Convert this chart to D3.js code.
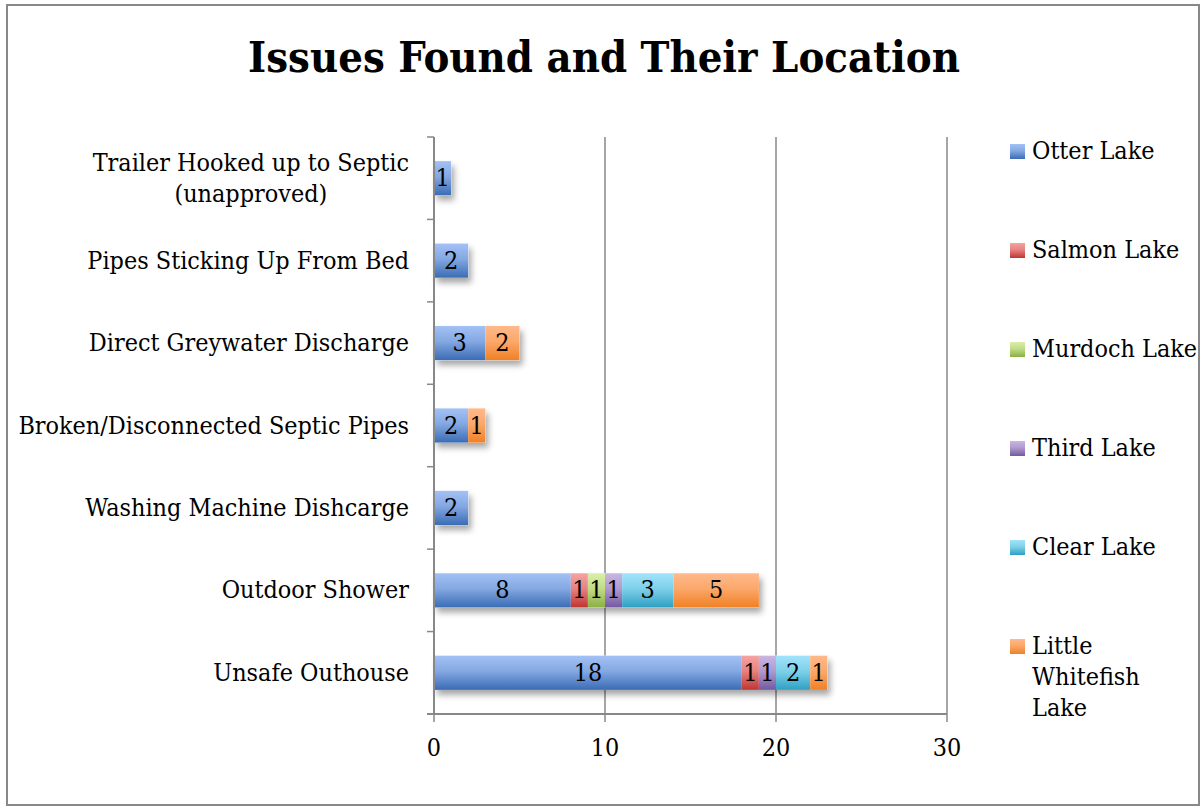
<!DOCTYPE html>
<html><head><meta charset="utf-8">
<script src="https://cdn.jsdelivr.net/npm/d3@7"></script>
<style>html,body{margin:0;padding:0;background:#fff;}svg{display:block;}</style>
</head><body>
<svg id="c" width="1202" height="808"></svg>
<script>
const categories = ["Trailer Hooked up to Septic (unapproved)","Pipes Sticking Up From Bed","Direct Greywater Discharge","Broken/Disconnected Septic Pipes","Washing Machine Dishcarge","Outdoor Shower","Unsafe Outhouse"];
const categoryLines = [["Trailer Hooked up to Septic","(unapproved)"],["Pipes Sticking Up From Bed"],["Direct Greywater Discharge"],["Broken/Disconnected Septic Pipes"],["Washing Machine Dishcarge"],["Outdoor Shower"],["Unsafe Outhouse"]];
const seriesNames = ["Otter Lake","Salmon Lake","Murdoch Lake","Third Lake","Clear Lake","Little Whitefish Lake"];
const legendLines = [["Otter Lake"],["Salmon Lake"],["Murdoch Lake"],["Third Lake"],["Clear Lake"],["Little","Whitefish","Lake"]];
const otterLake      = [1,2,3,2,2,8,18];
const salmonLake     = [0,0,0,0,0,1,1];
const murdochLake    = [0,0,0,0,0,1,0];
const thirdLake      = [0,0,0,0,0,1,1];
const clearLake      = [0,0,0,0,0,3,2];
const littleWhitefish= [0,0,2,1,0,5,1];
const xTicks = [0,10,20,30];
const seriesValues = [otterLake,salmonLake,murdochLake,thirdLake,clearLake,littleWhitefish];
const colorTop = ["#a3c1f6","#f6a3a2","#d9efa6","#c9b6e2","#a1e4fb","#ffb98a"];
const colorBot = ["#3a6cb4","#bf3533","#8ab043","#7359a0","#2ea0c2","#f08024"];

const svg = d3.select("#c");
const font = "'DejaVu Serif Condensed', 'DejaVu Serif', serif";
// fit body font size so the longest category label is ~391px wide
const probe = svg.append("text").attr("font-family",font).attr("font-stretch","condensed").attr("font-size",22).text("Broken/Disconnected Septic Pipes");
const fs = 22*391/probe.node().getComputedTextLength();
probe.remove();
const tprobe = svg.append("text").attr("font-family",font).attr("font-stretch","condensed").attr("font-weight","bold").attr("font-size",44).text("Issues Found and Their Location");
const tfs = 44*712/tprobe.node().getComputedTextLength();
tprobe.remove();

const defs = svg.append("defs");
seriesNames.forEach((s,i)=>{
  const g = defs.append("linearGradient").attr("id","g"+i).attr("x1",0).attr("y1",0).attr("x2",0).attr("y2",1);
  g.append("stop").attr("offset","0%").attr("stop-color",colorTop[i]);
  g.append("stop").attr("offset","45%").attr("stop-color",d3.interpolateRgb(colorTop[i],colorBot[i])(0.3));
  g.append("stop").attr("offset","100%").attr("stop-color",colorBot[i]);
});
const f = defs.append("filter").attr("id","sh").attr("x","-10%").attr("y","-30%").attr("width","130%").attr("height","180%");
f.append("feDropShadow").attr("dx",3).attr("dy",5).attr("stdDeviation",3).attr("flood-color","#000").attr("flood-opacity",0.35);

svg.append("rect").attr("x",7).attr("y",5).attr("width",1192).attr("height",800).attr("fill","#fff").attr("stroke","#888").attr("stroke-width",2);

svg.append("text").attr("x",604).attr("y",72).attr("text-anchor","middle").attr("font-family",font).attr("font-stretch","condensed").attr("font-weight","bold").attr("font-size",tfs).attr("fill","#000").text("Issues Found and Their Location");

const x = d3.scaleLinear().domain([0,30]).range([434,947]);
const y = d3.scaleBand().domain(categories).range([137,714]).paddingInner(0.585).paddingOuter(0.2925);

svg.append("g").selectAll("line").data(xTicks.filter(t=>t>0)).join("line")
  .attr("x1",d=>x(d)).attr("x2",d=>x(d)).attr("y1",137).attr("y2",714).attr("stroke","#888").attr("stroke-width",1.5);

const table = categories.map((c,ci)=>{const o={cat:c}; seriesNames.forEach((s,si)=>o[s]=seriesValues[si][ci]); return o;});
const stack = d3.stack().keys(seriesNames)(table);

const totals = table.map(d=>d3.sum(seriesNames,s=>d[s]));
svg.append("g").attr("filter","url(#sh)").selectAll("rect").data(categories).join("rect")
  .attr("x",x(0)).attr("y",d=>y(d)).attr("width",(d,i)=>x(totals[i])-x(0)).attr("height",y.bandwidth()).attr("fill","#fff");

const layers = svg.append("g").selectAll("g").data(stack).join("g").attr("fill",(d,i)=>`url(#g${i})`);
layers.selectAll("rect").data(d=>d.filter(p=>p[1]-p[0]>0)).join("rect")
  .attr("x",d=>x(d[0])).attr("y",d=>y(d.data.cat)).attr("width",d=>x(d[1])-x(d[0])).attr("height",y.bandwidth());
layers.selectAll("text").data(d=>d.filter(p=>p[1]-p[0]>0)).join("text")
  .attr("x",d=>(x(d[0])+x(d[1]))/2).attr("y",d=>y(d.data.cat)+y.bandwidth()/2+8).attr("text-anchor","middle")
  .attr("font-family",font).attr("font-stretch","condensed").attr("font-size",fs).attr("fill","#000").text(d=>d[1]-d[0]);

const ya = svg.append("g");
ya.append("line").attr("x1",434).attr("x2",434).attr("y1",137).attr("y2",714).attr("stroke","#888").attr("stroke-width",2);
ya.selectAll("line.t").data(d3.range(8)).join("line").attr("class","t")
  .attr("x1",427).attr("x2",434).attr("y1",i=>137+i*(577/7)).attr("y2",i=>137+i*(577/7)).attr("stroke","#888").attr("stroke-width",1.5);
svg.append("line").attr("x1",427).attr("x2",947).attr("y1",714).attr("y2",714).attr("stroke","#888").attr("stroke-width",2);
svg.selectAll("line.xt").data(xTicks).join("line").attr("class","xt")
  .attr("x1",d=>x(d)).attr("x2",d=>x(d)).attr("y1",714).attr("y2",722).attr("stroke","#888").attr("stroke-width",1.5);
svg.selectAll("text.xl").data(xTicks).join("text").attr("class","xl")
  .attr("x",d=>x(d)).attr("y",756).attr("text-anchor","middle").attr("font-family",font).attr("font-stretch","condensed").attr("font-size",fs).text(d=>d);

categories.forEach((c,i)=>{
  const lines = categoryLines[i];
  const cy = y(c)+y.bandwidth()/2;
  const g = svg.append("g");
  const texts = lines.map((l,li)=>g.append("text").attr("font-family",font).attr("font-stretch","condensed").attr("font-size",fs).attr("text-anchor","middle")
     .attr("y",cy + (li-(lines.length-1)/2)*31 + 8).text(l));
  const w = d3.max(texts,t=>t.node().getComputedTextLength());
  texts.forEach(t=>t.attr("x",409-w/2));
});

const lys = [151,250,349,448,547,646];
seriesNames.forEach((s,i)=>{
  svg.append("rect").attr("x",1010).attr("y",lys[i]-7).attr("width",15).attr("height",15).attr("fill",`url(#g${i})`);
  legendLines[i].forEach((l,li)=>{
    svg.append("text").attr("x",1032).attr("y",lys[i]+8+li*31).attr("font-family",font).attr("font-stretch","condensed").attr("font-size",fs).text(l);
  });
});
</script>
</body></html>
